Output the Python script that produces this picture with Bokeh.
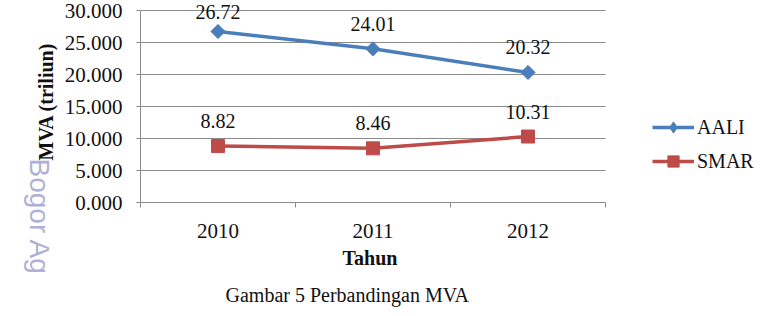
import math
from bokeh.plotting import figure
from bokeh.models import (FixedTicker, NumeralTickFormatter, LabelSet, ColumnDataSource,
                          Legend, LegendItem, Label, Range1d, Title)
from bokeh.embed import file_html
from bokeh.resources import INLINE

# ---- data ----
years = ["2010", "2011", "2012"]
aali = [26.72, 24.01, 20.32]
smar = [8.82, 8.46, 10.31]
y_ticks = [0, 5, 10, 15, 20, 25, 30]
series_names = ["AALI", "SMAR"]
y_title = "MVA (triliun)"
x_title = "Tahun"
caption = "Gambar 5 Perbandingan MVA"
watermark = "Bogor Ag"

# ---- layout ----
W, H = 765, 316
LEFT, TOP, BOTTOM = 136, 0, 114
PLOT_W = 468          # width of the drawn category area
HEAD = 10             # px of free room above the top gridline
SERIF = "Liberation Serif"
BLUE = "#4a7ebb"
RED = "#be4b48"
GRID = "#8a8a8a"
INK = "#111111"

ymax = max(y_ticks)
ncat = len(years)
frame_h = H - TOP - BOTTOM
frame_w = W - LEFT
px_per_unit = (frame_h - HEAD) / ymax
y_end = frame_h / px_per_unit
px_per_cat = PLOT_W / ncat
x_end = frame_w / px_per_cat

p = figure(width=W, height=H, output_backend="svg", toolbar_location=None,
           x_range=Range1d(0, x_end), y_range=Range1d(0, y_end),
           min_border_left=LEFT, min_border_right=0,
           min_border_top=TOP, min_border_bottom=BOTTOM)
p.outline_line_color = None
p.background_fill_color = "white"
p.border_fill_color = "white"

xs = [i + 0.5 for i in range(ncat)]

def label_offsets(vals):
    # label centred ~25px above the point, kept inside the top of the chart
    return [min(25.0, (y_end - v) * px_per_unit - 11.0) for v in vals]

src_a = ColumnDataSource(dict(x=xs, y=aali, t=["%.2f" % v for v in aali], off=label_offsets(aali)))
src_s = ColumnDataSource(dict(x=xs, y=smar, t=["%.2f" % v for v in smar], off=label_offsets(smar)))

la = p.line("x", "y", source=src_a, line_color=BLUE, line_width=3.5)
# plain diamond (used for the legend swatch) hidden under the rotated-square marker
leg_d = p.scatter("x", "y", source=src_a, marker="diamond", size=8,
                  fill_color=BLUE, line_color=BLUE)
ma = p.scatter("x", "y", source=src_a, marker="square", size=10, angle=math.pi / 4,
               fill_color=BLUE, line_color=BLUE)
ls = p.line("x", "y", source=src_s, line_color=RED, line_width=3.5)
ms = p.scatter("x", "y", source=src_s, marker="square", size=13,
               fill_color=RED, line_color=RED)

for src in (src_a, src_s):
    p.add_layout(LabelSet(x="x", y="y", text="t", source=src, y_offset="off",
                          text_align="center", text_baseline="middle",
                          text_font=SERIF, text_font_size="20px", text_color=INK))

# ---- axes ----
p.xgrid.visible = False
p.ygrid.grid_line_color = GRID
p.ygrid.grid_line_width = 1.2
p.ygrid.ticker = FixedTicker(ticks=y_ticks)
p.ygrid.cross_bounds = (0, ncat)

p.yaxis.ticker = FixedTicker(ticks=y_ticks)
p.yaxis.bounds = (0, ymax)
p.yaxis.formatter = NumeralTickFormatter(format="0.000")
p.yaxis.axis_line_color = GRID
p.yaxis.major_tick_line_color = GRID
p.yaxis.major_tick_out = 4
p.yaxis.major_tick_in = 0
p.yaxis.minor_tick_line_color = None
p.yaxis.major_label_standoff = 14
p.yaxis.major_label_text_font = SERIF
p.yaxis.major_label_text_font_size = "21px"
p.yaxis.major_label_text_color = INK
p.yaxis.axis_label = y_title
p.yaxis.axis_label_text_font = SERIF
p.yaxis.axis_label_text_font_style = "bold"
p.yaxis.axis_label_text_font_size = "20px"
p.yaxis.axis_label_text_color = INK
p.yaxis.axis_label_standoff = 5

p.xaxis.ticker = FixedTicker(ticks=xs, minor_ticks=list(range(ncat + 1)))
p.xaxis.bounds = (0, ncat)
p.xaxis.major_label_overrides = {x: y for x, y in zip(xs, years)}
p.xaxis.axis_line_color = GRID
p.xaxis.major_tick_line_color = None
p.xaxis.major_tick_out = 0
p.xaxis.major_tick_in = 0
p.xaxis.minor_tick_line_color = GRID
p.xaxis.minor_tick_out = 5
p.xaxis.minor_tick_in = 0
p.xaxis.major_label_standoff = 16
p.xaxis.major_label_text_font = SERIF
p.xaxis.major_label_text_font_size = "21px"
p.xaxis.major_label_text_color = INK

# ---- x title and caption below ----
p.add_layout(Title(text=x_title, align="left", offset=202, standoff=13, vertical_align="top",
                   text_font=SERIF, text_font_size="20px", text_font_style="bold",
                   text_color=INK), "below")
p.add_layout(Title(text=caption, align="left", offset=85, standoff=13, vertical_align="top",
                   text_font=SERIF, text_font_size="20px", text_font_style="normal",
                   text_color=INK), "below")

# ---- legend (inside the frame, right of the category area) ----
legend = Legend(items=[LegendItem(label=series_names[0], renderers=[la, leg_d]),
                       LegendItem(label=series_names[1], renderers=[ls, ms])],
                location=(PLOT_W + 44, 27), glyph_width=42, glyph_height=28, label_height=20,
                label_standoff=3, spacing=6, padding=0, margin=0,
                border_line_color=None, background_fill_alpha=0,
                label_text_font=SERIF, label_text_font_size="20px",
                label_text_color=INK)
p.add_layout(legend, "center")

# ---- watermark (left panel) ----
p.add_layout(Label(x=(34 - LEFT) / px_per_cat, y=(frame_h - 158) / px_per_unit,
                   text=watermark, text_font="Liberation Sans", text_font_size="28px",
                   angle=-math.pi / 2, text_align="left", text_baseline="middle",
                   text_color="#b0b0d6"), "left")

open("out.html", "w").write(file_html(p, INLINE))
